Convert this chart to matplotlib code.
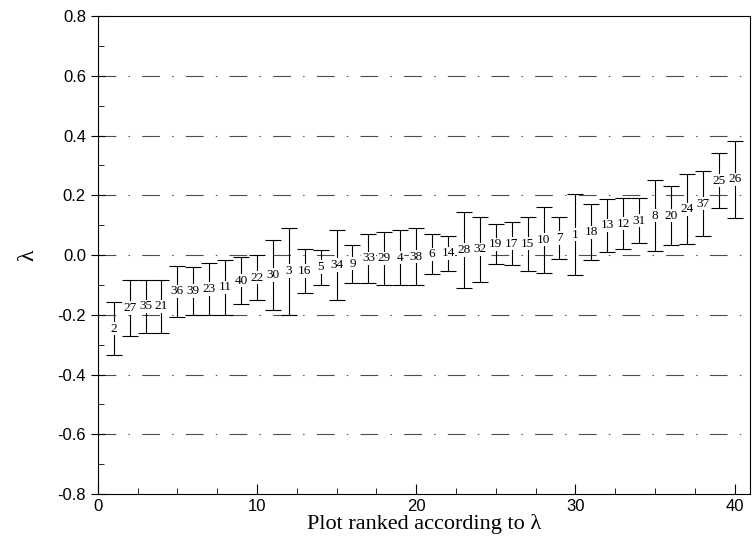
import numpy as np
import matplotlib
matplotlib.use("Agg")
import matplotlib.pyplot as plt
from matplotlib.ticker import MultipleLocator

# plot numbers in rank order (rank 1 .. 40)
plot_ids = [2, 27, 35, 21, 36, 39, 23, 11, 40, 22,
            30, 3, 16, 5, 34, 9, 33, 29, 4, 38,
            6, 14, 28, 32, 19, 17, 15, 10, 7, 1,
            18, 13, 12, 31, 8, 20, 24, 37, 25, 26]

lower = [-0.335, -0.27, -0.26, -0.26, -0.206, -0.20, -0.20, -0.20, -0.164, -0.15,
         -0.183, -0.20, -0.127, -0.099, -0.15, -0.093, -0.093, -0.10, -0.10, -0.10,
         -0.065, -0.052, -0.11, -0.09, -0.031, -0.035, -0.052, -0.06, -0.012, -0.068,
         -0.017, 0.011, 0.02, 0.039, 0.013, 0.033, 0.036, 0.064, 0.157, 0.123]

upper = [-0.157, -0.084, -0.084, -0.084, -0.037, -0.04, -0.027, -0.017, -0.007, -0.001,
         0.05, 0.092, 0.021, 0.018, 0.083, 0.034, 0.072, 0.078, 0.083, 0.09,
         0.07, 0.064, 0.143, 0.128, 0.103, 0.11, 0.128, 0.162, 0.126, 0.205,
         0.17, 0.188, 0.19, 0.19, 0.25, 0.23, 0.27, 0.28, 0.34, 0.383]

rank = np.arange(1, len(plot_ids) + 1)
lo = np.array(lower)
hi = np.array(upper)
mid = (lo + hi) / 2

fig = plt.figure(figsize=(7.52, 5.52), dpi=100)
ax = fig.add_axes([0.130, 0.105, 0.868, 0.866])

# dash-dot grid lines (long dash, dot)
for yv in np.arange(-0.6, 0.61, 0.2):
    ax.axhline(yv, color="0.3", lw=0.8, ls=(0, (16, 11, 1.3, 11)), zorder=1)

ax.errorbar(rank, mid, yerr=[mid - lo, hi - mid], fmt="none",
            ecolor="black", elinewidth=0.8, capsize=5.5, capthick=0.8, zorder=2)

for x, y, name in zip(rank, mid, plot_ids):
    ax.text(x, y, str(name), ha="center", va="center", fontsize=9.5,
            family="Liberation Serif", zorder=3,
            bbox=dict(facecolor="white", edgecolor="none", pad=0.5))

ax.set_xlim(0, 41)
ax.set_ylim(-0.8, 0.8)
ax.xaxis.set_major_locator(MultipleLocator(10))
ax.xaxis.set_minor_locator(MultipleLocator(2.5))
ax.yaxis.set_major_locator(MultipleLocator(0.2))
ax.yaxis.set_minor_locator(MultipleLocator(0.1))
ax.set_yticklabels([f"{v:.1f}" for v in ax.get_yticks()])

ax.tick_params(axis="both", which="major", labelsize=12, length=7, width=0.8)
ax.tick_params(axis="y", which="major", direction="inout", length=10)
ax.tick_params(axis="x", which="major", direction="in")
ax.tick_params(which="minor", direction="in", length=4, width=0.6)
for lab in ax.get_xticklabels() + ax.get_yticklabels():
    lab.set_family("Liberation Sans")

for sp in ax.spines.values():
    sp.set_linewidth(0.8)

ax.set_xlabel("Plot ranked according to λ", family="Liberation Serif", fontsize=16, labelpad=0)
ax.set_ylabel("λ", family="Liberation Serif", fontsize=17, labelpad=14)

fig.savefig("out.png", dpi=100)
